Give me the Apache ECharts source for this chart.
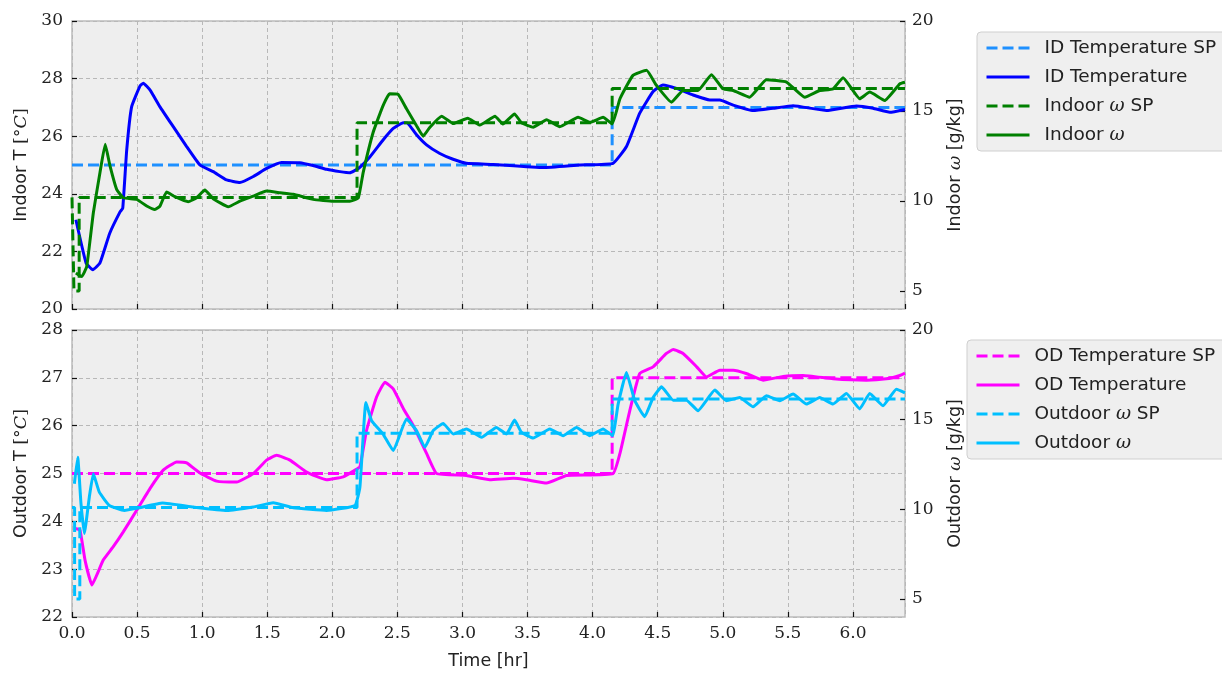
<!DOCTYPE html>
<html>
<head>
<meta charset="utf-8">
<script src="https://cdn.jsdelivr.net/npm/echarts@6/dist/echarts.min.js"></script>
<style>
html,body{margin:0;padding:0;background:#fff;}
#chart{width:1222px;height:675px;}
</style>
</head>
<body>
<div id="chart"></div>
<script>
// ---- data (time [hr], value) ----
const idTempSP = [[0,25],[4.15,25],[4.15,27],[6.4,27]];
const idTemp = [[0.03,23.1],[0.108,21.6],[0.16,21.36],[0.215,21.6],[0.29,22.63],[0.37,23.38],[0.39,23.5],[0.42,25.5],[0.458,27.02],[0.522,27.74],[0.548,27.84],[0.6,27.6],[0.676,27.02],[0.778,26.33],[0.881,25.64],[0.983,25.0],[1.085,24.77],[1.188,24.48],[1.29,24.39],[1.393,24.6],[1.495,24.88],[1.61,25.09],[1.75,25.08],[1.853,24.98],[1.956,24.85],[2.058,24.77],[2.135,24.73],[2.2,24.88],[2.29,25.29],[2.39,25.87],[2.468,26.27],[2.545,26.47],[2.58,26.45],[2.647,26.05],[2.724,25.7],[2.826,25.4],[2.928,25.2],[3.03,25.06],[3.236,25.02],[3.62,24.91],[3.9,25.0],[4.157,25.06],[4.26,25.64],[4.362,26.8],[4.465,27.55],[4.54,27.78],[4.644,27.66],[4.772,27.43],[4.9,27.26],[4.977,27.26],[5.08,27.08],[5.233,26.89],[5.386,26.97],[5.54,27.06],[5.797,26.89],[6.027,27.05],[6.155,26.97],[6.283,26.83],[6.4,26.93]];
const indoorWSP = [[0,10.2],[0.015,10.2],[0.015,5.0],[0.055,5.0],[0.055,10.2],[2.19,10.2],[2.19,14.35],[4.15,14.35],[4.15,16.25],[6.4,16.25]];
const indoorW = [[0.03,6.0],[0.074,5.8],[0.113,6.36],[0.164,9.35],[0.215,11.58],[0.255,13.15],[0.292,11.95],[0.343,10.65],[0.394,10.18],[0.497,10.09],[0.574,9.72],[0.637,9.53],[0.676,9.72],[0.727,10.5],[0.791,10.24],[0.893,9.96],[0.957,10.18],[1.021,10.61],[1.085,10.13],[1.2,9.68],[1.29,9.99],[1.393,10.27],[1.495,10.55],[1.598,10.46],[1.7,10.37],[1.853,10.09],[2.007,9.99],[2.135,9.99],[2.2,10.18],[2.237,11.58],[2.314,13.82],[2.39,15.3],[2.44,15.96],[2.506,15.92],[2.57,15.12],[2.647,14.18],[2.698,13.6],[2.75,14.1],[2.84,14.71],[2.93,14.3],[3.04,14.6],[3.134,14.22],[3.25,14.71],[3.31,14.28],[3.4,14.84],[3.454,14.34],[3.543,14.1],[3.646,14.52],[3.748,14.13],[3.889,14.65],[3.98,14.37],[4.08,14.65],[4.15,14.28],[4.21,15.68],[4.31,16.98],[4.414,17.26],[4.49,16.42],[4.606,15.49],[4.695,16.14],[4.81,16.14],[4.913,17.02],[5.002,16.23],[5.08,16.14],[5.207,15.77],[5.335,16.74],[5.49,16.61],[5.63,15.77],[5.745,16.14],[5.847,16.23],[5.924,16.85],[6.052,15.68],[6.129,16.05],[6.244,15.58],[6.36,16.51],[6.4,16.6]];
const odTempSP = [[0,25],[4.15,25],[4.15,27],[6.4,27]];
const odTemp = [[0.023,23.85],[0.061,23.82],[0.1,23.19],[0.153,22.67],[0.24,23.19],[0.317,23.47],[0.394,23.78],[0.497,24.23],[0.6,24.69],[0.701,25.07],[0.804,25.24],[0.881,25.22],[0.983,25.01],[1.111,24.84],[1.265,24.82],[1.393,25.0],[1.495,25.28],[1.572,25.38],[1.674,25.28],[1.803,25.03],[1.956,24.87],[2.084,24.93],[2.174,25.07],[2.212,25.14],[2.263,25.9],[2.34,26.6],[2.404,26.91],[2.468,26.77],[2.545,26.36],[2.621,26.01],[2.724,25.42],[2.801,25.0],[3.03,24.96],[3.21,24.87],[3.39,24.9],[3.49,24.87],[3.646,24.8],[3.8,24.96],[4.157,25.0],[4.21,25.42],[4.286,26.32],[4.362,27.09],[4.465,27.23],[4.567,27.51],[4.62,27.59],[4.695,27.51],[4.8,27.23],[4.875,27.02],[4.977,27.16],[5.08,27.16],[5.18,27.09],[5.31,26.95],[5.463,27.03],[5.617,27.05],[5.847,26.98],[6.104,26.95],[6.257,26.98],[6.36,27.05],[6.4,27.1]];
const outdoorWSP = [[0,10.1],[0.02,10.1],[0.02,5.0],[0.06,5.0],[0.06,10.1],[2.19,10.1],[2.19,14.25],[4.15,14.25],[4.15,16.15],[6.4,16.15]];
const outdoorW = [[0.018,11.43],[0.044,12.9],[0.069,10.32],[0.095,8.65],[0.133,10.68],[0.164,11.98],[0.21,10.96],[0.287,10.22],[0.402,9.94],[0.517,10.09],[0.696,10.35],[0.932,10.13],[1.188,9.94],[1.393,10.13],[1.546,10.37],[1.7,10.09],[1.956,9.94],[2.174,10.22],[2.212,11.24],[2.258,15.96],[2.302,14.94],[2.39,14.2],[2.468,13.28],[2.57,15.04],[2.647,14.39],[2.711,13.46],[2.775,14.39],[2.852,14.79],[2.93,14.2],[3.03,14.48],[3.147,14.02],[3.26,14.57],[3.338,14.2],[3.40,14.98],[3.454,14.29],[3.543,13.98],[3.671,14.48],[3.773,14.11],[3.876,14.57],[3.979,14.11],[4.08,14.48],[4.153,14.11],[4.196,15.87],[4.26,17.63],[4.324,16.06],[4.40,15.17],[4.465,16.24],[4.53,16.83],[4.618,16.09],[4.72,16.09],[4.81,15.5],[4.939,16.65],[5.028,16.06],[5.13,16.24],[5.233,15.72],[5.335,16.33],[5.438,16.06],[5.54,16.43],[5.643,15.87],[5.745,16.24],[5.847,15.87],[5.95,16.46],[6.052,15.6],[6.129,16.46],[6.231,15.78],[6.334,16.7],[6.4,16.5]];
const rightTicks = [5,10,15,20];
const namesTop = ['ID Temperature SP','ID Temperature','Indoor ω SP','Indoor ω'];
const namesBot = ['OD Temperature SP','OD Temperature','Outdoor ω SP','Outdoor ω'];

const SERIF = 'DejaVu Serif';
const SANS = 'DejaVu Sans';
const tickFont = {fontFamily: SERIF, fontSize: 17, color: '#222'};
const DASH = [11, 5];

function legendFmt(name){
  const i = name.indexOf('ω');
  if (i < 0) return '{n|' + name + '}';
  return '{n|' + name.slice(0,i) + '}{w|ω}' + (name.slice(i+1) ? '{n|' + name.slice(i+1) + '}' : '');
}
const legendRich = {
  n: {fontFamily: SANS, fontSize: 18.5, color: '#222'},
  w: {fontFamily: SERIF, fontStyle: 'italic', fontSize: 18.5, color: '#222'}
};
const nameRich = {
  a: {fontFamily: SANS, fontSize: 17.5, color: '#222'},
  b: {fontFamily: SERIF, fontSize: 17.5, color: '#222'},
  c: {fontFamily: SERIF, fontStyle: 'italic', fontSize: 17.5, color: '#222'}
};

function xAx(gi, showLabel){
  return {
    type: 'value', gridIndex: gi, min: 0, max: 6.4, interval: 0.5,
    axisLine: {show: false},
    axisTick: {show: true, inside: true, length: 5, lineStyle: {color: '#111', width: 1.2}},
    axisLabel: {show: showLabel, ...tickFont, margin: 8, showMaxLabel: false,
      formatter: v => v.toFixed(1)},
    splitLine: {show: true, lineStyle: {color: '#b8b8b8', type: [4,3], width: 1}},
    name: showLabel ? '{a|Time [hr]}' : '', nameLocation: 'middle', nameGap: 35,
    nameTextStyle: {rich: nameRich}
  };
}
function yLeft(gi, min, max, itv, name){
  return {
    type: 'value', gridIndex: gi, min: min, max: max, interval: itv, position: 'left',
    axisLine: {show: false},
    axisTick: {show: true, inside: true, length: 5, lineStyle: {color: '#111', width: 1.2}},
    axisLabel: {...tickFont, margin: 9},
    splitLine: {show: true, lineStyle: {color: '#b8b8b8', type: [4,3], width: 1}},
    name: name, nameLocation: 'middle', nameRotate: 90, nameGap: 41,
    nameTextStyle: {rich: nameRich}
  };
}
function yRight(gi, name){
  return {
    type: 'value', gridIndex: gi, min: 4, max: 20, position: 'right',
    axisLine: {show: false},
    axisTick: {show: true, inside: true, length: 5, customValues: rightTicks, lineStyle: {color: '#111', width: 1.2}},
    axisLabel: {...tickFont, margin: 7, customValues: rightTicks},
    splitLine: {show: false},
    name: name, nameLocation: 'middle', nameRotate: 90, nameGap: 41,
    nameTextStyle: {rich: nameRich}
  };
}
function line(name, data, color, xi, yi, dashed){
  return {
    name: name, type: 'line', data: data, xAxisIndex: xi, yAxisIndex: yi,
    symbol: 'none', showSymbol: false, smooth: dashed ? false : 0.12,
    lineStyle: {color: color, width: 3, type: dashed ? DASH : 'solid'},
    itemStyle: {color: color}, silent: true, z: 2
  };
}
function legend(names, left, top){
  return {
    data: names, orient: 'vertical', left: left, top: top,
    itemWidth: 43, itemHeight: 14, itemGap: 9,
    padding: [6, 40, 6, 8],
    backgroundColor: '#efefef', borderColor: '#cfcfcf', borderWidth: 1, borderRadius: 4,
    itemStyle: {opacity: 0},
    lineStyle: {width: 3},
    formatter: legendFmt,
    textStyle: {rich: legendRich, lineHeight: 20, padding: [0,0,0,10]},
    selectedMode: false
  };
}

const chart = echarts.init(document.getElementById('chart'), null, {renderer: 'canvas'});
chart.setOption({
  animation: false,
  backgroundColor: '#ffffff',
  grid: [
    {left: 72, top: 21, width: 833, height: 288, show: true, backgroundColor: '#eeeeee', borderColor: '#bcbcbc', borderWidth: 1.5},
    {left: 72, top: 330, width: 833, height: 287, show: true, backgroundColor: '#eeeeee', borderColor: '#bcbcbc', borderWidth: 1.5}
  ],
  xAxis: [xAx(0, false), xAx(1, true)],
  yAxis: [
    yLeft(0, 20, 30, 2, '{a|Indoor T }{b|[°}{c|C}{b|]}'),
    yRight(0, '{a|Indoor }{c|ω}{a| [g/kg]}'),
    yLeft(1, 22, 28, 1, '{a|Outdoor T }{b|[°}{c|C}{b|]}'),
    yRight(1, '{a|Outdoor }{c|ω}{a| [g/kg]}')
  ],
  legend: [legend(namesTop, 977, 32), legend(namesBot, 967, 340)],
  series: [
    line(namesTop[0], idTempSP, '#1e90ff', 0, 0, true),
    line(namesTop[1], idTemp, '#0000ff', 0, 0, false),
    line(namesTop[2], indoorWSP, '#008000', 0, 1, true),
    line(namesTop[3], indoorW, '#008000', 0, 1, false),
    line(namesBot[0], odTempSP, '#ff00ff', 1, 2, true),
    line(namesBot[1], odTemp, '#ff00ff', 1, 2, false),
    line(namesBot[2], outdoorWSP, '#00bfff', 1, 3, true),
    line(namesBot[3], outdoorW, '#00bfff', 1, 3, false)
  ]
});
</script>
</body>
</html>
